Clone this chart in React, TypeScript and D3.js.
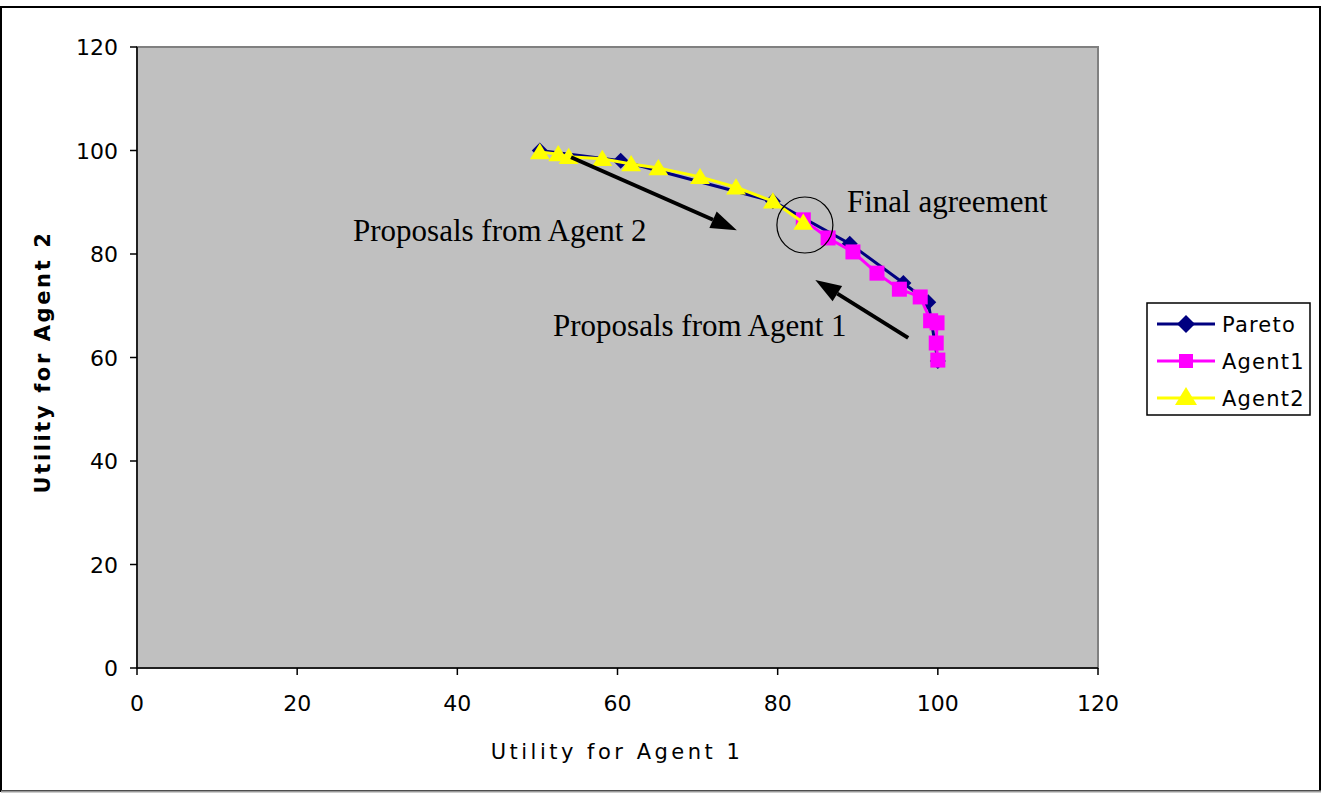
import * as d3 from "d3";

const W = 1323;
const H = 793;

// series
const paretoX = [50.3, 60.4, 79.4, 89.0, 95.7, 98.8, 100.0];
const paretoY = [100.0, 98.0, 90.2, 82.0, 74.4, 70.7, 59.3];

const agent1X = [83.2, 86.3, 89.4, 92.4, 95.2, 97.8, 99.1, 99.9, 99.8, 100.0];
const agent1Y = [86.6, 83.1, 80.4, 76.3, 73.2, 71.7, 67.1, 66.7, 62.8, 59.5];

const agent2X = [50.3, 52.6, 53.9, 58.1, 61.7, 65.1, 70.3, 74.8, 79.4, 83.2];
const agent2Y = [99.7, 99.3, 98.8, 98.4, 97.4, 96.6, 94.9, 92.9, 90.2, 86.1];

const xTicks = [0, 20, 40, 60, 80, 100, 120];
const yTicks = [0, 20, 40, 60, 80, 100, 120];

const plot = { left: 137, top: 47, right: 1098, bottom: 668 };

type Pt = [number, number];
const zip = (xs: number[], ys: number[]): Pt[] => xs.map((x, i) => [x, ys[i]]);

export default function App() {
  const x = d3.scaleLinear().domain([0, 120]).range([plot.left, plot.right]);
  const y = d3.scaleLinear().domain([0, 120]).range([plot.bottom, plot.top]);

  const line = d3
    .line<Pt>()
    .x((d) => x(d[0]))
    .y((d) => y(d[1]));

  const pareto = zip(paretoX, paretoY);
  const agent1 = zip(agent1X, agent1Y);
  const agent2 = zip(agent2X, agent2Y);

  const diamond = (cx: number, cy: number, r: number) =>
    `M${cx},${cy - r}L${cx + r},${cy}L${cx},${cy + r}L${cx - r},${cy}Z`;
  const tri = (cx: number, cy: number, r: number) =>
    `M${cx},${cy - r}L${cx + r * 1.1},${cy + r * 0.8}L${cx - r * 1.1},${cy + r * 0.8}Z`;

  const tickFont = { fontFamily: "DejaVu Sans, Verdana, sans-serif", fontSize: 22, fill: "#000" };
  const serif = { fontFamily: "Liberation Serif, Times New Roman, serif", fontSize: 31, fill: "#000" };

  // annotations in data units
  const arrow1: [Pt, Pt] = [[54.2, 98.7], [74.9, 84.6]];
  const arrow2: [Pt, Pt] = [[96.3, 63.8], [84.7, 75.0]];
  const agreement: Pt = [83.4, 85.6];

  const arrow = (a: Pt, b: Pt, key: string) => {
    const x1 = x(a[0]), y1 = y(a[1]), x2 = x(b[0]), y2 = y(b[1]);
    const ang = Math.atan2(y2 - y1, x2 - x1);
    const len = 26, half = 9;
    const bx = x2 - len * Math.cos(ang), by = y2 - len * Math.sin(ang);
    const px = -Math.sin(ang) * half, py = Math.cos(ang) * half;
    return (
      <g key={key}>
        <line x1={x1} y1={y1} x2={bx} y2={by} stroke="#000" strokeWidth={4} />
        <path d={`M${x2},${y2}L${bx + px},${by + py}L${bx - px},${by - py}Z`} fill="#000" />
      </g>
    );
  };

  const legendItems = [
    { name: "Pareto", color: "#000080", shape: "diamond" },
    { name: "Agent1", color: "#FF00FF", shape: "square" },
    { name: "Agent2", color: "#FFFF00", shape: "triangle" },
  ];

  return (
    <svg
      width={W}
      height={H}
      viewBox={`0 0 ${W} ${H}`}
      style={{ position: "absolute", left: 0, top: 0, display: "block", background: "#fff" }}
    >
      {/* outer frame */}
      <rect x={1} y={7} width={1319} height={784} fill="#fff" stroke="#000" strokeWidth={2} />
      <line x1={1} y1={791.5} x2={1321} y2={791.5} stroke="#999" strokeWidth={2} />

      {/* plot area */}
      <rect
        x={plot.left}
        y={plot.top}
        width={plot.right - plot.left}
        height={plot.bottom - plot.top}
        fill="#C0C0C0"
        stroke="#808080"
        strokeWidth={2}
      />
      <line x1={plot.left} y1={plot.top} x2={plot.left} y2={plot.bottom} stroke="#000" strokeWidth={1.5} />
      <line x1={plot.left} y1={plot.bottom} x2={plot.right} y2={plot.bottom} stroke="#000" strokeWidth={1.5} />

      {/* y ticks */}
      {yTicks.map((t) => (
        <g key={"y" + t}>
          <line x1={plot.left - 7} x2={plot.left} y1={y(t)} y2={y(t)} stroke="#000" strokeWidth={1.5} />
          <text x={plot.left - 19} y={y(t) + 8} textAnchor="end" {...tickFont}>
            {t}
          </text>
        </g>
      ))}
      {/* x ticks */}
      {xTicks.map((t) => (
        <g key={"x" + t}>
          <line x1={x(t)} x2={x(t)} y1={plot.bottom} y2={plot.bottom + 7} stroke="#000" strokeWidth={1.5} />
          <text x={x(t)} y={plot.bottom + 43} textAnchor="middle" {...tickFont}>
            {t}
          </text>
        </g>
      ))}

      {/* axis titles */}
      <text x={617} y={759} textAnchor="middle" {...tickFont} fontSize={21} letterSpacing={3.5}>
        Utility for Agent 1
      </text>
      <text
        transform="translate(50,362) rotate(-90)"
        textAnchor="middle"
        {...tickFont}
        fontSize={21}
        fontWeight="bold"
        letterSpacing={2.6}
      >
        Utility for Agent 2
      </text>

      {/* series */}
      <path d={line(pareto) ?? ""} fill="none" stroke="#000080" strokeWidth={3} />
      {pareto.map((d, i) => (
        <path key={"p" + i} d={diamond(x(d[0]), y(d[1]), 8)} fill="#000080" />
      ))}
      <path d={line(agent1) ?? ""} fill="none" stroke="#FF00FF" strokeWidth={3} />
      {agent1.map((d, i) => (
        <rect key={"a" + i} x={x(d[0]) - 7.5} y={y(d[1]) - 7.5} width={15} height={15} fill="#FF00FF" />
      ))}
      <path d={line(agent2) ?? ""} fill="none" stroke="#FFFF00" strokeWidth={3} />
      {agent2.map((d, i) => (
        <path key={"b" + i} d={tri(x(d[0]), y(d[1]), 9)} fill="#FFFF00" />
      ))}

      {/* annotations */}
      {arrow(arrow1[0], arrow1[1], "ar1")}
      {arrow(arrow2[0], arrow2[1], "ar2")}
      <circle cx={x(agreement[0])} cy={y(agreement[1])} r={28} fill="none" stroke="#000" strokeWidth={1.2} />
      <text x={847} y={212} {...serif}>
        Final agreement
      </text>
      <text x={353} y={241} {...serif}>
        Proposals from Agent 2
      </text>
      <text x={553} y={336} {...serif}>
        Proposals from Agent 1
      </text>

      {/* legend */}
      <rect x={1147} y={303} width={163} height={112} fill="#fff" stroke="#000" strokeWidth={1.5} />
      {legendItems.map((it, i) => {
        const cy = 324 + i * 37;
        const cx = 1186;
        return (
          <g key={it.name}>
            <line x1={1157} x2={1215} y1={cy} y2={cy} stroke={it.color} strokeWidth={3} />
            {it.shape === "diamond" && <path d={diamond(cx, cy, 9)} fill={it.color} />}
            {it.shape === "square" && <rect x={cx - 7} y={cy - 7} width={14} height={14} fill={it.color} />}
            {it.shape === "triangle" && <path d={tri(cx, cy - 1, 10)} fill={it.color} />}
            <text x={1222} y={cy + 8} {...tickFont} fontSize={21} letterSpacing={1.2}>
              {it.name}
            </text>
          </g>
        );
      })}
    </svg>
  );
}
